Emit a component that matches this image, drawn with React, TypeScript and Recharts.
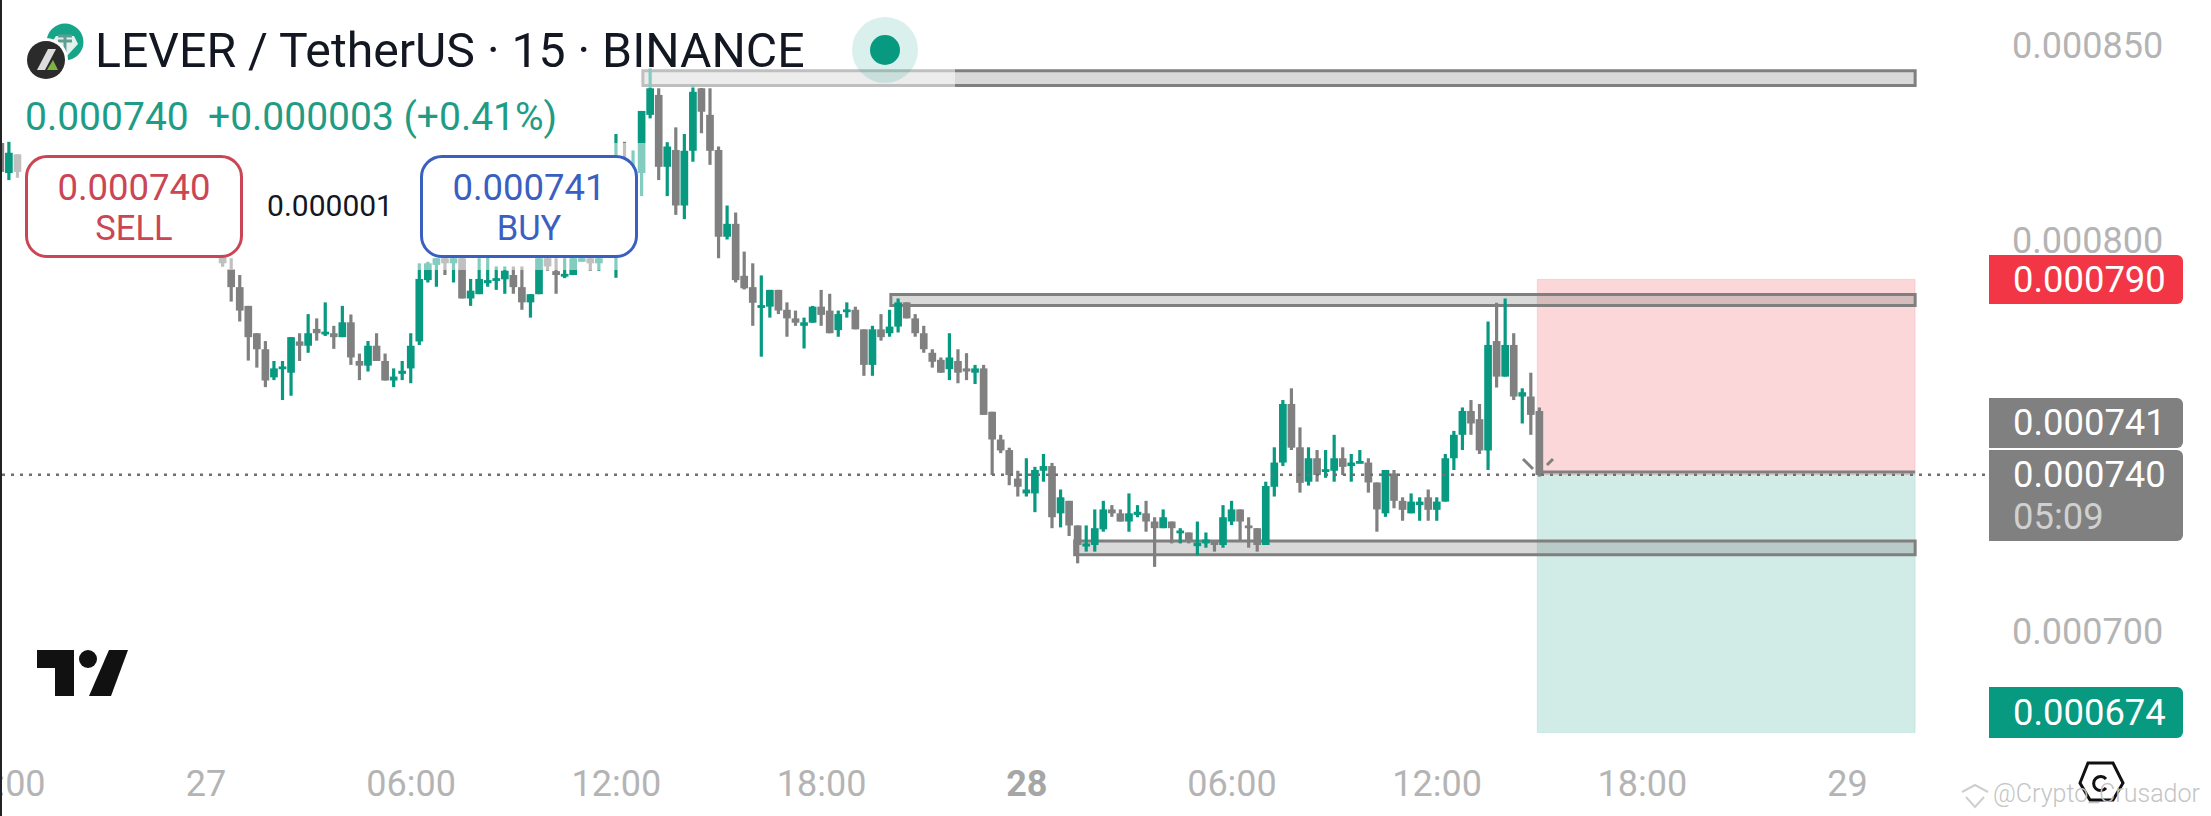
import React from "react";
import {
  ComposedChart,
  Bar,
  XAxis,
  YAxis,
  ReferenceArea,
  ReferenceLine,
} from "recharts";

// prices are in millionths (740 = 0.000740), x is the count of 15 min candles from the 27th 00:00
const earlySlots = [-24, -23, -22];
const FIRST_VISIBLE_SLOT = 2;

const opens = [
  824.9, 817.2, 822,
  797, 792.6, 788, 783.2, 776.2, 772.1, 764.9, 767, 766.1, 774.1,
  773, 777.3, 776, 776.2, 775.2, 779, 769.1, 767.9, 773, 769.1,
  764.1, 765.8, 767.2, 774.1, 789.8, 793.7, 795.4, 794.1, 795.4, 785.1,
  786.2, 789, 789.6, 790, 791.1, 788, 784.1, 786.2, 795.4, 792.1,
  790.7, 791.1, 794.5, 795.4, 794.1, 800, 805, 815, 808, 817.2,
  832.1, 837.2, 818.8, 823.1, 808.9, 822.9, 838.9, 832.1, 823.1, 800.9,
  804.2, 790.9, 788, 782.7, 783, 787.3, 782.2, 780, 778.1, 778.9,
  783, 782, 777, 781.7, 782.2, 777.2, 768.1, 777.2, 776.2, 777.9,
  784.1, 780, 776.2, 771.2, 769.4, 767, 769.1, 767.2, 766.1, 767.2,
  756.1, 749, 746.3, 739, 735.2, 735.2, 741, 742.2, 730.1, 733.3,
  727, 721.6, 722, 726, 731.1, 730.1, 728, 729.7, 730.1, 728,
  726.3, 728, 725, 725.2, 721.7, 722.4, 723, 722, 728, 731.1,
  727, 726.3, 722, 736.9, 743.1, 758.1, 747, 738.2, 744.2, 740.8,
  741, 744.2, 742.2, 742.9, 743.1, 738, 730.1, 740.3, 733.3, 730.1,
  732.2, 734.2, 731, 733.1, 744.2, 750.2, 756.3, 754.2, 746.2, 774.2,
  765.1, 773.2, 760, 760, 756.3,
];
const highs = [
  825.2, 825.2, 822,
  798, 795.4, 791.1, 783.2, 776.2, 774.2, 769.1, 769.1, 775.2, 776.2,
  781.1, 780, 784.1, 778.1, 783.2, 781, 771, 774.2, 776.2, 771,
  767.2, 769.1, 776.2, 794.1, 794.5, 795.4, 795.5, 796, 795.5, 790.1,
  795.4, 795.8, 793.3, 793.3, 793.3, 793.3, 786.2, 795.4, 795.5, 795.4,
  795.4, 795.5, 795.5, 795.5, 795.5, 803, 827.2, 825.2, 823, 833.1,
  844, 838.9, 825.1, 828.9, 827.2, 839.8, 839, 838.9, 824, 808.9,
  807.1, 797.1, 794.1, 791, 787.3, 787.3, 784.1, 782, 780.2, 783.2,
  787.3, 786.3, 782, 784.1, 783, 777.2, 778.1, 781.1, 782.2, 785.1,
  784.1, 781.1, 778.1, 772.1, 770, 776.2, 772.1, 771.1, 768.1, 768.1,
  756.1, 750.2, 746.9, 741, 744.2, 742, 745.3, 743, 736.2, 733.3,
  727, 727, 731.1, 733.3, 732.2, 731.1, 735.2, 732.2, 733.3, 729.1,
  731.1, 728, 726.3, 725.2, 728, 725.2, 723, 732.2, 733.3, 731.1,
  729.1, 726.3, 738.2, 747, 759.1, 762.1, 752.1, 747, 746.3, 746.3,
  750.2, 747, 745.3, 746.3, 744.2, 738, 741.2, 741.2, 734.2, 735.2,
  734.2, 736.2, 734.2, 745.3, 751.2, 757.2, 759.1, 758.1, 779.2, 784,
  785.1, 776.2, 762.1, 766.1, 757.2,
];
const lows = [
  815.4, 815.4, 816,
  793.2, 784.3, 779.2, 769.2, 767.4, 762.4, 764.2, 759.1, 760.2, 769.1,
  771.2, 774.3, 775.5, 772.2, 775.2, 768.1, 764.2, 766.4, 769.1, 764.1,
  762.4, 764.2, 763.4, 773.2, 789.2, 788.1, 791.1, 789.2, 785.1, 783.2,
  786.2, 788.1, 787.3, 786.3, 786.3, 782.2, 780.2, 786.2, 792.2, 786.3,
  790.3, 791.1, 794.5, 792.2, 792.2, 798, 790.4, 808, 806, 811.3,
  831.2, 815.4, 811.3, 806.5, 805.4, 820.1, 827.4, 819.3, 795.4, 800.2,
  789.2, 787.4, 778.1, 770.2, 780.2, 781.1, 775.3, 778.1, 772.3, 778.9,
  778.1, 776.2, 775.3, 780.2, 777.2, 765.3, 765.3, 774.3, 775.3, 776.4,
  780, 775.3, 771.2, 767.4, 766.1, 764.2, 763.4, 764.2, 763.2, 755.3,
  739.9, 745.5, 737.3, 734.4, 734.4, 730.4, 738.2, 726.3, 726.5, 724.3,
  717.3, 720.3, 720.3, 725.4, 729.2, 728, 725.4, 729.1, 725.4, 716.4,
  726.3, 722.4, 722.4, 722.4, 719.4, 721.3, 720.3, 721.3, 727.1, 722.8,
  721.3, 720.3, 722, 734.4, 742.2, 746.3, 735.4, 737.2, 738.2, 739.2,
  738.2, 739.9, 738.2, 742.9, 735.4, 725.4, 729.2, 731.4, 728.2, 730.1,
  728.2, 728.2, 728.2, 733.1, 741.2, 746.3, 750.2, 745.3, 741.2, 762.3,
  765.1, 759.1, 753.1, 750.2, 739.5,
];
const closes = [
  817.5, 822.4, 817.5,
  794.1, 788, 782, 775.2, 772.1, 764.1, 767.2, 767.7, 775.2, 773,
  776.2, 776.2, 776.6, 775.2, 779, 770, 767.9, 773, 769.1, 764.1,
  765.1, 766.6, 773, 790.1, 794.1, 795.4, 794.1, 795.4, 785.1, 787.1,
  790.1, 789.8, 790.3, 792.2, 788, 784.1, 786.2, 795.4, 793.3, 791.1,
  791.4, 795.4, 795.4, 794.1, 795.4, 802, 810, 812, 815, 833.1,
  838.9, 818.8, 824, 808.9, 822.9, 838, 832.9, 822.9, 800.9, 804.2,
  789.8, 787.7, 784, 783.4, 787.3, 782, 780, 778.9, 779, 783,
  780.9, 776.2, 781.1, 782.3, 777.2, 768.1, 777.2, 775.2, 777.9, 784.1,
  780, 776.2, 772.1, 768.9, 766.1, 770, 766.1, 766.4, 767.2, 755.3,
  749, 746.2, 739.9, 736.9, 736.2, 741.2, 742.2, 729.1, 734.2, 727,
  722, 722.4, 726.3, 731.1, 730.1, 728, 730.1, 730.5, 728, 726.3,
  729.1, 726.3, 725.7, 722.8, 722.6, 723.4, 722, 729.1, 731.1, 728,
  726.3, 722, 737.1, 743.1, 758.1, 746.9, 737.9, 744.2, 739.9, 741.4,
  744.2, 742, 743.1, 743.5, 738, 731.1, 741.2, 733.3, 731, 733.1,
  733.1, 731, 733.1, 744.2, 750.2, 756.3, 753.1, 746.2, 773.2, 765.1,
  773.2, 760, 761.1, 755.3, 739.9,
];

const xTickSlots = [-24, 0, 24, 48, 72, 96, 120, 144, 168, 192];
const xTickLabels = ["18:00", "27", "06:00", "12:00", "18:00", "28", "06:00", "12:00", "18:00", "29"];
const priceTicks = [700, 750, 800, 850];

const LAST_PRICE = 740;
const STOP_PRICE = 790;
const TARGET_PRICE = 674;
const POSITION_START = 155.7;
const BOX_END = 199.9;
// [start slot, lower price, upper price]
const zoneBoxes = [
  [51.1, 839.6, 843.4],
  [80.1, 783.3, 786.1],
  [101.6, 719.5, 723],
];

const rows = [
  ...earlySlots,
  ...opens.slice(earlySlots.length).map((_, i) => i + FIRST_VISIBLE_SLOT),
].map((slot, i) => ({
  slot,
  open: opens[i],
  high: highs[i],
  low: lows[i],
  close: closes[i],
}));

const UP = "#089981";
const DOWN = "#808080";
const FONT = "Roboto, sans-serif";

function Candle(props: any) {
  const { x, y, width, height, payload } = props;
  const { open, high, low, close } = payload;
  const perUnit = high > low ? Math.abs(height) / (high - low) : 0;
  const topY = y + (high - Math.max(open, close)) * perUnit;
  const bodyH = Math.max(Math.abs(open - close) * perUnit, 2.8);
  const color = close >= open ? UP : DOWN;
  const mid = x + width / 2;
  return (
    <g>
      <rect x={mid - 1.6} y={y} width={3.2} height={Math.max(Math.abs(height), 1)} fill={color} />
      <rect x={x} y={topY} width={width} height={bodyH} fill={color} />
    </g>
  );
}

function TimeTick(props: any) {
  const { x, y, payload } = props;
  const label = xTickLabels[xTickSlots.indexOf(payload.value)];
  const bold = label === "28";
  return (
    <text
      x={x}
      y={y + 43}
      textAnchor="middle"
      fontFamily={FONT}
      fontSize={36}
      fontWeight={bold ? 700 : 400}
      fill={bold ? "#a6a6a6" : "#b4b4b4"}
    >
      {label}
    </text>
  );
}

function Label(props: {
  x: number;
  y: number;
  size: number;
  color: string;
  weight?: number;
  anchor?: "left" | "center";
  children: React.ReactNode;
}) {
  const { x, y, size, color, weight = 400, anchor = "left", children } = props;
  return (
    <div
      style={{
        position: "absolute",
        left: x,
        top: y,
        transform: anchor === "center" ? "translate(-50%, -50%)" : "translateY(-50%)",
        fontFamily: FONT,
        fontSize: size,
        fontWeight: weight,
        color,
        lineHeight: 1,
        whiteSpace: "pre",
      }}
    >
      {children}
    </div>
  );
}

function OrderButton(props: { x: number; color: string; price: string; side: string }) {
  const { x, color, price, side } = props;
  return (
    <div
      style={{
        position: "absolute",
        left: x,
        top: 155,
        width: 218,
        height: 103,
        boxSizing: "border-box",
        border: `3px solid ${color}`,
        borderRadius: 22,
        background: "#fff",
      }}
    >
      <Label x={106} y={30} size={36.5} color={color} anchor="center">{price}</Label>
      <Label x={106} y={70} size={34.5} color={color} anchor="center">{side}</Label>
    </div>
  );
}

function PriceBadge(props: {
  y: number;
  h: number;
  color: string;
  text: string;
  sub?: string;
}) {
  const { y, h, color, text, sub } = props;
  return (
    <div
      style={{
        position: "absolute",
        left: 1989,
        top: y,
        width: 194,
        height: h,
        background: color,
        borderRadius: "0 6px 6px 0",
      }}
    >
      <Label x={24} y={sub ? 25 : h / 2} size={36.4} color="#fff">{text}</Label>
      {sub && <Label x={24} y={67} size={36.4} color="#d0d0d0">{sub}</Label>}
    </div>
  );
}

export default function App() {
  return (
    <div
      style={{
        position: "absolute",
        left: 0,
        top: 0,
        width: 2211,
        height: 816,
        background: "#fff",
        overflow: "hidden",
      }}
    >
      <ComposedChart
        width={2211}
        height={816}
        data={rows}
        margin={{ top: 0, right: 0, bottom: 0, left: 0 }}
      >
        <XAxis
          dataKey="slot"
          type="number"
          domain={[-24.09, 208.07]}
          allowDataOverflow
          ticks={xTickSlots}
          interval={0}
          height={71}
          axisLine={false}
          tickLine={false}
          tick={<TimeTick />}
        />
        <YAxis
          orientation="right"
          domain={[670.8, 861.5]}
          allowDataOverflow
          ticks={priceTicks}
          width={226}
          axisLine={false}
          tickLine={false}
          tickSize={0}
          tickMargin={27}
          tickFormatter={(v: number) => (v / 1e6).toFixed(6)}
          tick={{ fill: "#b4b4b4", fontSize: 36, fontFamily: FONT }}
        />
        <ReferenceArea
          x1={POSITION_START}
          x2={BOX_END}
          y1={LAST_PRICE}
          y2={STOP_PRICE}
          fill="#f23645"
          fillOpacity={0.2}
          stroke="#f23645"
          strokeOpacity={0.12}
        />
        <ReferenceArea
          x1={POSITION_START}
          x2={BOX_END}
          y1={TARGET_PRICE}
          y2={LAST_PRICE}
          fill="#089981"
          fillOpacity={0.19}
          stroke="#089981"
          strokeOpacity={0.12}
        />
        <ReferenceLine
          y={LAST_PRICE}
          stroke="#6f6f6f"
          strokeWidth={2.5}
          strokeDasharray="3 6"
        />
        <ReferenceLine
          segment={[
            { x: POSITION_START, y: LAST_PRICE + 0.7 },
            { x: BOX_END, y: LAST_PRICE + 0.7 },
          ]}
          stroke="#808080"
          strokeWidth={3}
        />
        {zoneBoxes.map(([start, lower, upper]) => (
          <ReferenceArea
            key={start}
            x1={start}
            x2={BOX_END}
            y1={lower}
            y2={upper}
            fill="#787878"
            fillOpacity={0.28}
            stroke="#7f7f7f"
            strokeWidth={3}
          />
        ))}
        <Bar
          dataKey={(d: any) => [d.low, d.high]}
          barSize={9}
          shape={<Candle />}
          isAnimationActive={false}
        />
      </ComposedChart>

      {/* translucent legend rows that wash out what is under them */}
      <div style={{ position: "absolute", left: 0, top: 0, width: 955, height: 88, background: "rgba(255,255,255,0.5)" }} />
      <div style={{ position: "absolute", left: 13, top: 143, width: 639, height: 127, background: "rgba(255,255,255,0.5)" }} />

      <div style={{ position: "absolute", left: 0, top: 0, width: 2, height: 816, background: "#222" }} />

      <svg width={2211} height={816} style={{ position: "absolute", left: 0, top: 0 }}>
        <circle cx={885} cy={50} r={33} fill={UP} fillOpacity={0.15} />
        <circle cx={885} cy={50} r={15} fill={UP} />
        {/* symbol logos */}
        <circle cx={65} cy={42} r={18.5} fill="#17a589" />
        <path d="M56 36 L74 36 L78 44 L66 57 L52 42 Z" fill="#e4f2ef" />
        <path d="M58 36 H72 M65 36 V52 M58 41 H72" stroke="#5f9e93" strokeWidth={3} fill="none" />
        <circle cx={46} cy={60} r={22} fill="#fff" />
        <circle cx={46} cy={60} r={19} fill="#2b2b2b" />
        <path d="M37 70 L48 49 H56 L45 70 Z" fill="#ddd" />
        <path d="M47 70 L53 60 L58 70 Z" fill="#7cb342" />
        {/* TradingView mark */}
        <path d="M37 650 H74 V696 H55 V668 H37 Z" fill="#111" />
        <ellipse cx={88} cy={659} rx={9} ry={9} fill="#111" />
        <path d="M109 650 H128 L111 696 H89 Z" fill="#111" />
        {/* marks around the last candle */}
        <path d="M1523 459 L1533 469 M1547 465 L1553 459" stroke="#808080" strokeWidth={3} />
        {/* bottom right badge and watermark icon */}
        <path d="M2088 763 L2113 763 L2123 783 L2113 800 L2090 800 L2080 783 Z" fill="#fff" stroke="#111" strokeWidth={3} />
        <path d="M2106 779 A7 7 0 1 0 2106 788" fill="none" stroke="#111" strokeWidth={3} />
        <path d="M1962 792 L1975 785 L1988 792 M1966 797 L1975 807 L1984 797" fill="none" stroke="#cfcfcf" strokeWidth={2} />
      </svg>

      <Label x={95} y={51} size={48.2} color="#131722">LEVER / TetherUS · 15 · BINANCE</Label>
      <Label x={25} y={117} size={39} color="#1f9c86">0.000740</Label>
      <Label x={208} y={117} size={39} color="#1f9c86">+0.000003 (+0.41%)</Label>

      <OrderButton x={25} color="#cb4655" price="0.000740" side="SELL" />
      <Label x={330} y={206} size={30} color="#131722" anchor="center">0.000001</Label>
      <OrderButton x={420} color="#3b5fc0" price="0.000741" side="BUY" />

      <PriceBadge y={255} h={49} color="#f23645" text="0.000790" />
      <PriceBadge y={398} h={50} color="#808080" text="0.000741" />
      <PriceBadge y={450} h={91} color="#808080" text="0.000740" sub="05:09" />
      <PriceBadge y={687} h={51} color="#089981" text="0.000674" />

      <Label x={1993} y={793} size={25} color="#c4c4c4" weight={300}>@Crypto_Crusador</Label>
    </div>
  );
}
